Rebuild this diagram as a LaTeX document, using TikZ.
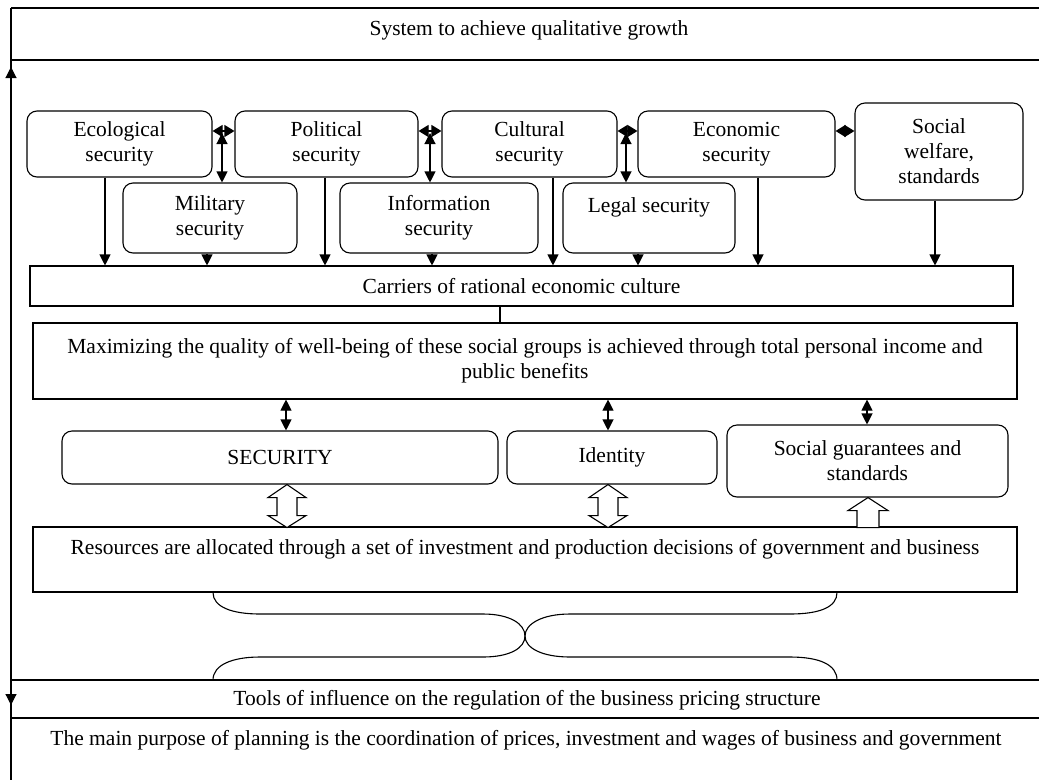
\documentclass[tikz,border=0pt]{standalone}
\usepackage{fontspec}
\setmainfont{Liberation Serif}
\usetikzlibrary{arrows.meta,calc}
\begin{document}
\begin{tikzpicture}[x=1pt,y=-1pt,
  every node/.style={font=\fontsize{21.5}{25}\selectfont, inner sep=0pt, align=center},
  rbox/.style={draw, rounded corners=10pt, line width=1.1pt},
  sbox/.style={draw, line width=1.1pt},
  ln/.style={line width=1.1pt},
  arr/.style={line width=1.1pt, -{Triangle[length=11pt,width=11pt]}},
  darr/.style={line width=1.1pt, {Triangle[length=11pt,width=11pt]}-{Triangle[length=11pt,width=11pt]}},
  sdarr/.style={line width=1.1pt, {Triangle[length=10pt,width=12pt]}-{Triangle[length=10pt,width=12pt]}},
  blk/.style={line width=1.1pt, draw, fill=white, line join=miter}
]
\useasboundingbox[fill=white] (0,0) rectangle (1039,780);

% frame lines
\node (sys) at (529,30) {System to achieve qualitative growth};
\draw[ln] (1039,8) -- (11,8);
\draw[ln] (11,60) -- (1039,60);
\coordinate (tlft) at (11,680);
\coordinate (trgt) at (1039,680);
\draw[ln] (tlft) -- (trgt);
\draw[ln] (11,718) -- (1039,718);
\coordinate (ltop) at (11,8);
\coordinate (lbot) at (11,780);
\draw[ln] (ltop) -- (lbot);
\coordinate (up1) at (11,92);
\coordinate (up2) at (11,67);
\draw[arr] (up1) -- (up2);
\coordinate (dn1) at (11,684);
\coordinate (dn2) at (11,705);
\draw[arr] (dn1) -- (dn2);
\node (tools) at (527,700) {Tools of influence on the regulation of the business pricing structure};
\node (main) at (526,740) {The main purpose of planning is the coordination of prices, investment and wages of business and government};

% top boxes
\node[rbox, minimum width=185, minimum height=66] (eco) at (119.5,144) {Ecological\\security};
\node[rbox, minimum width=183, minimum height=66] (pol) at (326.5,144) {Political\\security};
\node[rbox, minimum width=175, minimum height=66] (cul) at (529.5,144) {Cultural\\security};
\node[rbox, minimum width=197, minimum height=66] (ecn) at (736.5,144) {Economic\\security};
\node[rbox, minimum width=168, minimum height=97] (soc) at (939,151.5) {Social\\welfare,\\standards};
\node[rbox, minimum width=174, minimum height=70] (mil) at (210,218) {Military\\security};
\node[rbox, minimum width=198, minimum height=70] (inf) at (439,218) {Information\\security};
\node[rbox, minimum width=172, minimum height=70] (leg) at (649,218) {Legal security\\\mbox{}};

\node[sbox, minimum width=983, minimum height=40] (car) at (521.5,286) {Carriers of rational economic culture};
\node[sbox, minimum width=984, minimum height=76] (max) at (525,361) {Maximizing the quality of well-being of these social groups is achieved through total personal income and\\public benefits};

\node[rbox, minimum width=436, minimum height=53] (sec) at (280,457.5) {SECURITY};
\node[rbox, minimum width=210, minimum height=53] (ide) at (612,457.5) {Identity};
\node[rbox, minimum width=281, minimum height=72] (sg) at (867.5,461) {Social guarantees and\\standards};

\node[sbox, minimum width=984, minimum height=65, text height=14pt] (res) at (525,559.5) {\raisebox{12pt}{Resources are allocated through a set of investment and production decisions of government and business}};

% horizontal double arrows between top boxes
\draw[sdarr] (eco.east |- 0,131) -- (pol.west |- 0,131);
\draw[sdarr] (pol.east |- 0,131) -- (cul.west |- 0,131);
\draw[sdarr] (cul.east |- 0,131) -- (ecn.west |- 0,131);
\draw[sdarr] (ecn.east |- 0,131) -- (soc.west |- 0,131);

% vertical double arrows to second row
\draw[darr] (222,133) -- (222,0 |- mil.north);
\draw[darr] (430,133) -- (430,0 |- inf.north);
\draw[darr] (626,133) -- (626,0 |- leg.north);

% arrows into carriers
\draw[arr] (105,0 |- eco.south) -- (105,0 |- car.north);
\draw[arr] (207,0 |- mil.south) -- (207,0 |- car.north);
\draw[arr] (325,0 |- pol.south) -- (325,0 |- car.north);
\draw[arr] (432,0 |- inf.south) -- (432,0 |- car.north);
\draw[arr] (553,0 |- cul.south) -- (553,0 |- car.north);
\draw[arr] (638,0 |- leg.south) -- (638,0 |- car.north);
\draw[arr] (758,0 |- ecn.south) -- (758,0 |- car.north);
\draw[arr] (935,0 |- soc.south) -- (935,0 |- car.north);

\draw[ln] (500,0 |- car.south) -- (500,0 |- max.north);

% double arrows max -> lower row
\draw[darr] (286,0 |- max.south) -- (286,0 |- sec.north);
\draw[darr] (608,0 |- max.south) -- (608,0 |- ide.north);
\draw[darr] (867,0 |- max.south) -- (867,0 |- sg.north);

% hollow block arrows
\draw[blk] (287,0 |- sec.south) -- ++(19,13) -- ++(-9,0) -- ++(0,18) -- ++(9,0) -- ++(-19,12) -- ++(-19,-12) -- ++(9,0) -- ++(0,-18) -- ++(-9,0) -- cycle;
\draw[blk] (608,0 |- ide.south) -- ++(19,13) -- ++(-9,0) -- ++(0,18) -- ++(9,0) -- ++(-19,12) -- ++(-19,-12) -- ++(9,0) -- ++(0,-18) -- ++(-9,0) -- cycle;
\draw[blk] (868,0 |- sg.south) -- ++(20,13) -- ++(-9,0) -- ++(0,17) -- ++(-22,0) -- ++(0,-17) -- ++(-9,0) -- cycle;

% braces
\coordinate (bl) at (213,0 |- res.south);
\coordinate (br) at (837,0 |- res.south);
\coordinate (bm) at (525,636);
\coordinate (tl) at (213,0 |- tlft);
\coordinate (tr) at (837,0 |- tlft);
\draw[ln] (bl) .. controls (213,607) and (232,614) .. (260,614) -- (483,614)
  .. controls (510,614) and (525,624) .. (bm)
  .. controls (525,624) and (542,614) .. (570,614) -- (790,614)
  .. controls (820,614) and (837,607) .. (br);
\draw[ln] (tl) .. controls (213,665) and (232,657) .. (260,657) -- (483,657)
  .. controls (510,657) and (525,648) .. (bm)
  .. controls (525,648) and (542,657) .. (570,657) -- (790,657)
  .. controls (820,657) and (837,665) .. (tr);
\end{tikzpicture}
\end{document}
